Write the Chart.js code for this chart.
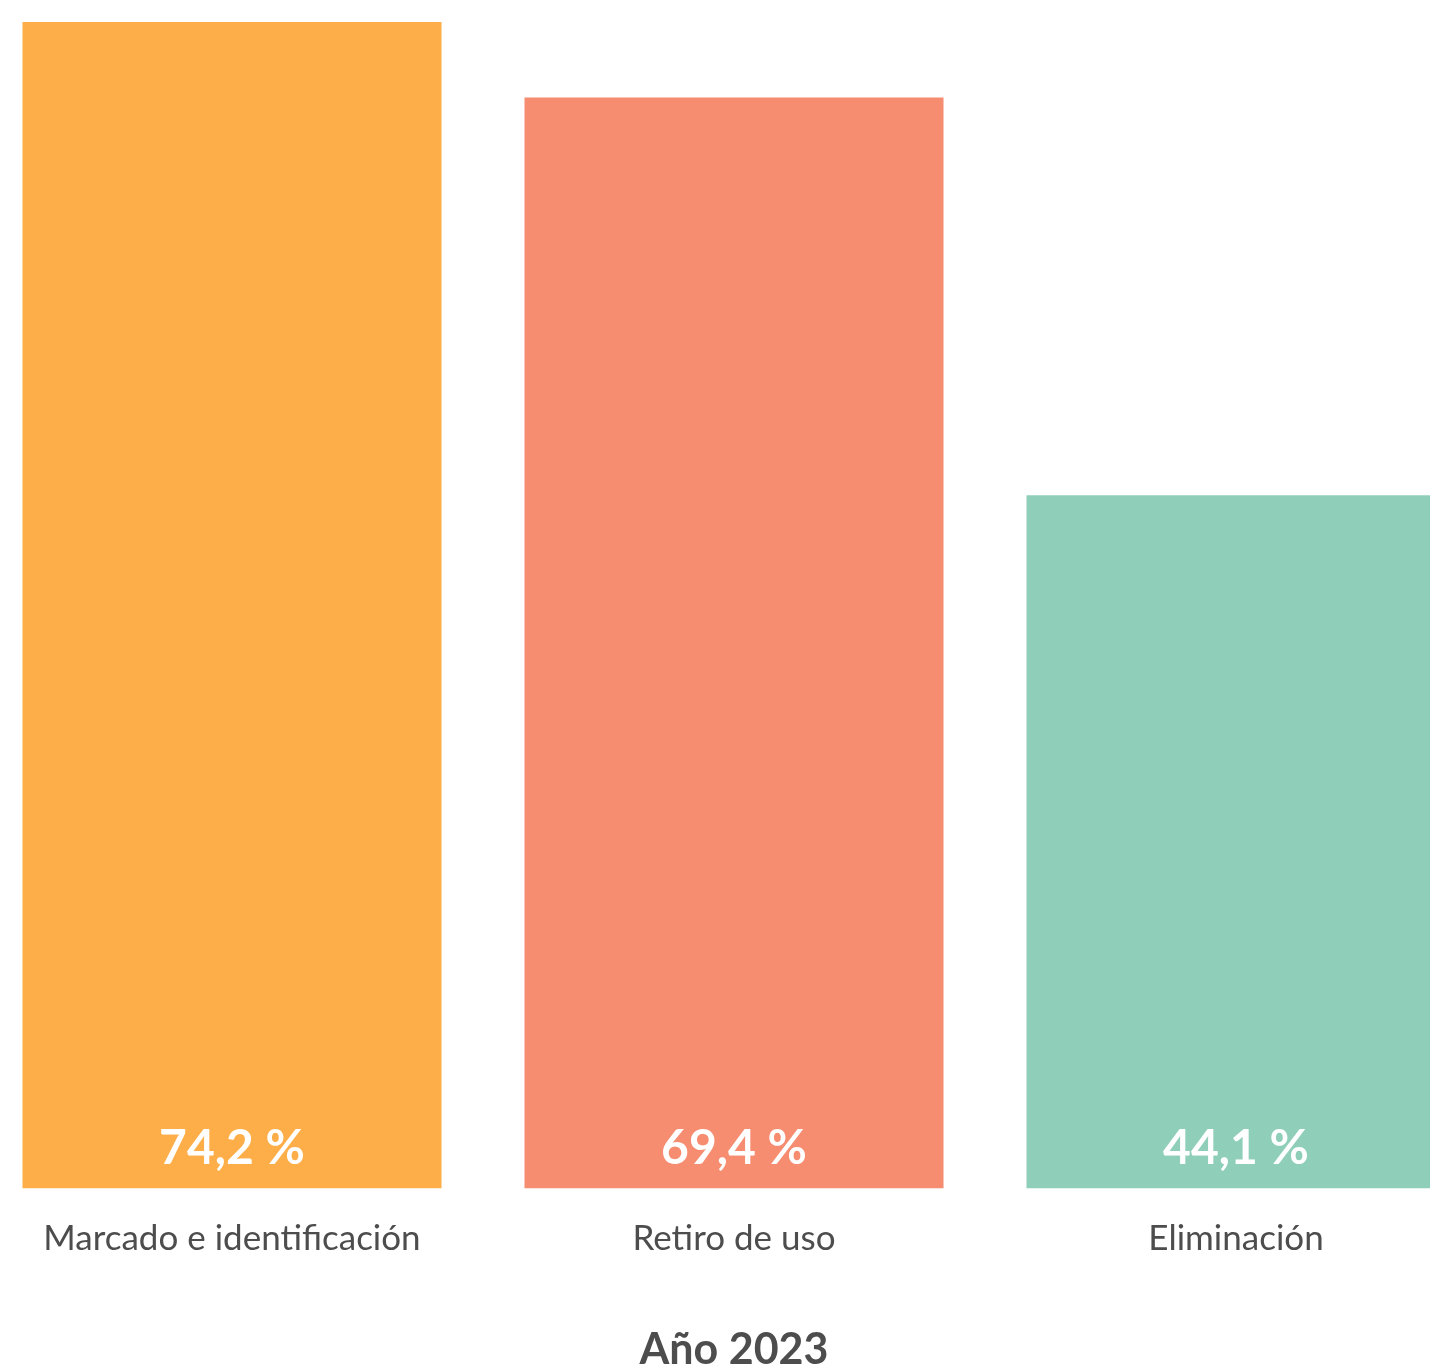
<!DOCTYPE html>
<html lang="es">
<head>
<meta charset="utf-8">
<title>Año 2023</title>
<script src="https://cdn.jsdelivr.net/npm/chart.js@4.4.1/dist/chart.umd.min.js"></script>
<style>
    html, body {
        margin: 0;
        padding: 0;
        background: #ffffff;
        overflow: hidden;
    }
    .chart-wrap {
        position: absolute;
        left: -19.5px;
        top: 0;
        width: 1506px;
        height: 1376px;
    }
</style>
</head>
<body>
<div class="chart-wrap">
    <canvas id="barChart"></canvas>
</div>
<script>
// Data
const categories = ['Marcado e identificación', 'Retiro de uso', 'Eliminación'];
const values = [74.2, 69.4, 44.1];
const barColors = ['#FDAE48', '#F68C70', '#8FCFB9'];
const axisTitle = 'Año 2023';

const textGray = '#4D4D4D';

// white value labels near the bottom of each bar
const valueLabels = {
    id: 'valueLabels',
    afterDatasetsDraw(chart) {
        const ctx = chart.ctx;
        const meta = chart.getDatasetMeta(0);
        ctx.save();
        ctx.font = 'bold 48px Lato';
        ctx.fillStyle = '#ffffff';
        ctx.textAlign = 'center';
        ctx.textBaseline = 'alphabetic';
        meta.data.forEach((bar, i) => {
            const txt = values[i].toFixed(1).replace('.', ',') + ' %';
            ctx.fillText(txt, bar.x, bar.base - 24);
        });
        ctx.restore();
    }
};

const ctx = document.getElementById('barChart').getContext('2d');
new Chart(ctx, {
    type: 'bar',
    data: {
        labels: categories,
        datasets: [{
            data: values,
            backgroundColor: barColors,
            borderWidth: 0,
            categoryPercentage: 1,
            barPercentage: 0.8347
        }]
    },
    options: {
        responsive: true,
        maintainAspectRatio: false,
        animation: false,
        layout: {
            padding: { top: 22, bottom: 0, left: 0, right: 0 }
        },
        plugins: {
            legend: { display: false },
            tooltip: { enabled: false }
        },
        scales: {
            y: {
                display: false,
                min: 0,
                max: 74.2
            },
            x: {
                grid: { display: false, drawTicks: false },
                border: { display: false },
                ticks: {
                    color: textGray,
                    padding: 29,
                    font: { family: 'Lato', size: 35 }
                },
                title: {
                    display: true,
                    text: axisTitle,
                    color: textGray,
                    padding: { top: 36, bottom: 0 },
                    font: { family: 'Lato', size: 43, weight: 'bold' }
                }
            }
        }
    },
    plugins: [valueLabels]
});
</script>
</body>
</html>
